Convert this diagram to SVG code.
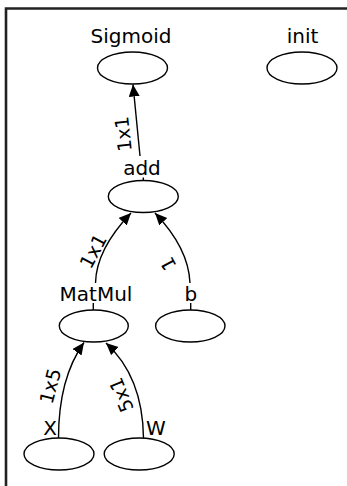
<svg xmlns="http://www.w3.org/2000/svg" width="347" height="486" viewBox="0 0 347 486">
<style>
.n{fill:#fff;stroke:#000;stroke-width:1.4}
.t{font-family:"DejaVu Sans",sans-serif;font-size:20px;fill:#000;text-anchor:middle}
.el{font-family:"DejaVu Sans",sans-serif;font-size:19px;fill:#000;text-anchor:middle}
.e{fill:none;stroke:#000;stroke-width:1.4}
.k{stroke:#000;stroke-width:1.4}
</style>
<defs>
<marker id="a" markerUnits="userSpaceOnUse" markerWidth="14" markerHeight="12" refX="12" refY="5.5" orient="auto">
<path d="M0,0 L12,5.5 L0,11 z" fill="#000"/>
</marker>
</defs>
<rect width="347" height="486" fill="#fff"/>
<path d="M6,486 V8.5 H347" fill="none" stroke="#222" stroke-width="2.6"/>
<g id="connectors">
<path class="e" d="M140,156 L133,84.5" marker-end="url(#a)"/>
<path class="e" d="M95.5,283 C96,258 110,235 131,213" marker-end="url(#a)"/>
<path class="e" d="M190,283 C189,258 176,235 155,213" marker-end="url(#a)"/>
<path class="e" d="M58.5,438 C58.5,395 68,365 84,342.5" marker-end="url(#a)"/>
<path class="e" d="M143.5,438 C143,395 130,365 106,343" marker-end="url(#a)"/>
<text class="el" transform="translate(123,134) rotate(-96)" y="7">1x1</text>
<text class="el" transform="translate(93,251) rotate(-62)" y="7">1x1</text>
<text class="el" transform="translate(168,264) rotate(-118)" y="7">1</text>
<text class="el" transform="translate(50,386) rotate(-75)" y="7">1x5</text>
<text class="el" transform="translate(121,395) rotate(-112)" y="7">5x1</text>
</g>
<g id="Sigmoid">
<text class="t" x="131" y="43">Sigmoid</text>
<ellipse class="n" cx="132.5" cy="68" rx="35" ry="16"/>
</g>
<g id="init">
<text class="t" x="302.5" y="43">init</text>
<ellipse class="n" cx="302" cy="68" rx="35" ry="16"/>
</g>
<g id="add">
<text class="t" x="142" y="175">add</text>
<line class="k" x1="143.3" y1="177.5" x2="143.3" y2="181"/>
<ellipse class="n" cx="143.3" cy="196.5" rx="35" ry="16"/>
</g>
<g id="MatMul">
<text class="t" x="96" y="301">MatMul</text>
<line class="k" x1="93.3" y1="303" x2="93.3" y2="310.5"/>
<ellipse class="n" cx="93.8" cy="326" rx="34.5" ry="16"/>
</g>
<g id="b">
<text class="t" x="190.8" y="301">b</text>
<line class="k" x1="190.7" y1="303" x2="190.7" y2="310.5"/>
<ellipse class="n" cx="190.3" cy="326" rx="34.7" ry="16"/>
</g>
<g id="X">
<text class="t" x="50" y="435">X</text>
<ellipse class="n" cx="59" cy="454" rx="35" ry="16"/>
</g>
<g id="W">
<text class="t" x="156" y="435">W</text>
<ellipse class="n" cx="139.2" cy="454" rx="35" ry="16"/>
</g>
</svg>
